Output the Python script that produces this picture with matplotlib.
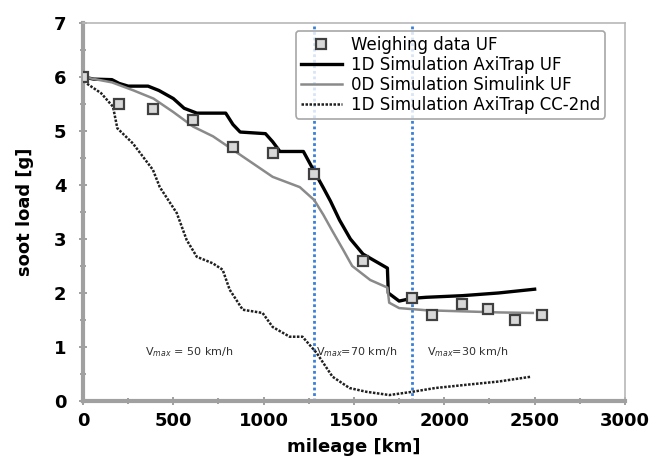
import matplotlib.pyplot as plt
from matplotlib.ticker import MultipleLocator

# weighing measurements
weigh_km = [0, 200, 390, 610, 830, 1050, 1280, 1550, 1820, 1930, 2100, 2240, 2390, 2540]
weigh_g = [6.0, 5.5, 5.4, 5.2, 4.7, 4.6, 4.2, 2.6, 1.9, 1.6, 1.8, 1.7, 1.5, 1.6]

# 1D simulation AxiTrap UF
axi_km = [0, 60, 160, 200, 250, 360, 420, 500, 560, 630, 790, 830, 870, 1010, 1050,
          1090, 1220, 1280, 1330, 1370, 1420, 1480, 1550, 1685, 1690, 1750, 1820,
          1900, 2100, 2300, 2500]
axi_g = [6.0, 5.96, 5.95, 5.88, 5.83, 5.83, 5.75, 5.6, 5.42, 5.33, 5.33, 5.12, 4.98,
         4.95, 4.8, 4.62, 4.62, 4.25, 3.95, 3.7, 3.35, 3.0, 2.72, 2.46, 2.0, 1.85,
         1.9, 1.92, 1.95, 2.0, 2.07]

# 0D simulation Simulink UF
sim_km = [0, 160, 280, 390, 500, 610, 720, 830, 940, 1050, 1200, 1280, 1330, 1380,
          1440, 1490, 1590, 1685, 1695, 1750, 1900, 2100, 2300, 2490]
sim_g = [6.0, 5.9, 5.75, 5.6, 5.35, 5.08, 4.9, 4.65, 4.4, 4.15, 3.96, 3.72, 3.45,
         3.15, 2.8, 2.5, 2.24, 2.1, 1.82, 1.72, 1.68, 1.66, 1.64, 1.63]

# 1D simulation AxiTrap CC-2nd
cc_km = [0, 20, 100, 166, 190, 276, 387, 425, 519, 574, 630, 718, 773, 812, 884, 994,
         1050, 1144, 1215, 1293, 1381, 1475, 1569, 1696, 1823, 1950, 2122, 2300, 2481]
cc_g = [6.0, 5.88, 5.7, 5.45, 5.05, 4.77, 4.28, 3.96, 3.48, 2.98, 2.67, 2.55, 2.43,
        2.06, 1.69, 1.63, 1.37, 1.19, 1.19, 0.89, 0.45, 0.24, 0.17, 0.11, 0.17, 0.24,
        0.3, 0.36, 0.45]

# speed phase boundaries and labels
phase_km = [1280, 1820]
phase_text = ['V$_{max}$ = 50 km/h', 'V$_{max}$=70 km/h', 'V$_{max}$=30 km/h']
phase_text_km = [343, 1290, 1905]

fig = plt.figure(figsize=(6.51, 4.59), dpi=100)
ax = fig.add_axes([0.1275, 0.1264, 0.8325, 0.8236])

ax.plot(weigh_km, weigh_g, linestyle='none', marker='s', markersize=7,
        markerfacecolor='#d8d8d8', markeredgecolor='#404040', markeredgewidth=1.6,
        label='Weighing data UF', zorder=5)
ax.plot(axi_km, axi_g, color='black', lw=2.4, label='1D Simulation AxiTrap UF')
ax.plot(sim_km, sim_g, color='#8a8a8a', lw=1.8, label='0D Simulation Simulink UF')
ax.plot(cc_km, cc_g, color='#202020', lw=1.8, linestyle=(0, (1, 0.6)),
        label='1D Simulation AxiTrap CC-2nd')

for xv in phase_km:
    ax.axvline(xv, color='#3a7fd8', lw=2, linestyle=(0, (1, 1)), zorder=1)

for xt, t in zip(phase_text_km, phase_text):
    ax.text(xt, 0.9, t, fontsize=8, color='#303030', va='center', ha='left')

ax.set_xlim(0, 3000)
ax.set_ylim(0, 7)
ax.xaxis.set_major_locator(MultipleLocator(500))
ax.xaxis.set_minor_locator(MultipleLocator(250))
ax.yaxis.set_major_locator(MultipleLocator(1))
ax.yaxis.set_minor_locator(MultipleLocator(0.5))

for side in ['left', 'bottom']:
    ax.spines[side].set_color('#a0a0a0')
    ax.spines[side].set_linewidth(3)
for side in ['top', 'right']:
    ax.spines[side].set_color('#b8b8b8')
    ax.spines[side].set_linewidth(1.2)

ax.tick_params(which='both', direction='inout', color='#909090', width=1.2)
ax.tick_params(which='major', length=6, labelsize=13)
ax.tick_params(axis='y', which='major', pad=9)
ax.tick_params(axis='x', which='major', pad=5)
ax.tick_params(which='minor', length=4)
for lbl in ax.get_xticklabels() + ax.get_yticklabels():
    lbl.set_fontweight('bold')

ax.set_xlabel('mileage [km]', fontsize=13, fontweight='bold', labelpad=6)
ax.set_ylabel('soot load [g]', fontsize=13, fontweight='bold', labelpad=14)

leg = ax.legend(loc='upper right', bbox_to_anchor=(0.963, 0.98), fontsize=12,
                handlelength=2.5, handletextpad=0.5, borderpad=0.3,
                labelspacing=0.12, borderaxespad=0, fancybox=True)
leg.get_frame().set_edgecolor('#909090')
leg.get_frame().set_linewidth(1.2)

plt.savefig('out.png', dpi=100)
